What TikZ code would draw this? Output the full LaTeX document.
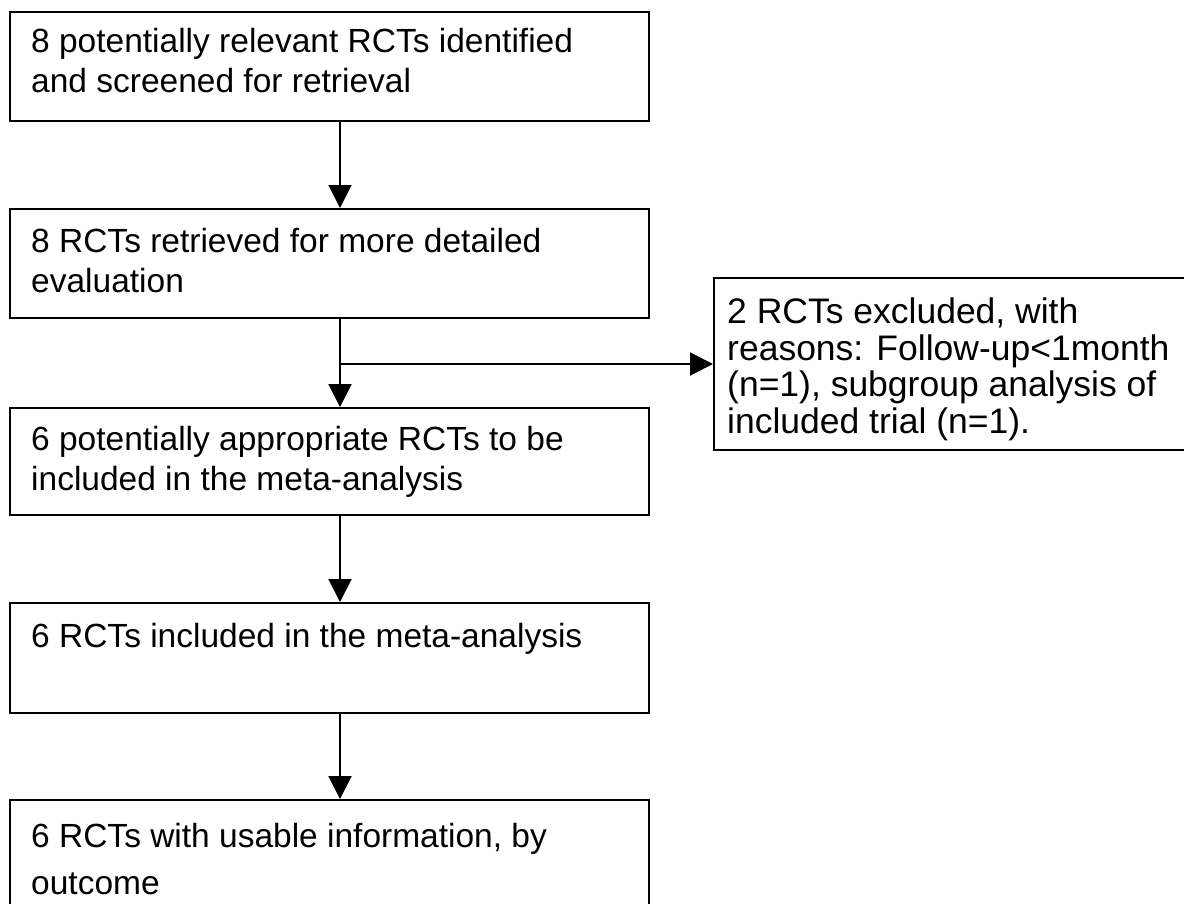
\documentclass[tikz,border=0pt]{standalone}
\usepackage{fontspec}
\setmainfont{Liberation Sans}
\usetikzlibrary{arrows.meta,calc}
\begin{document}
\begin{tikzpicture}[x=1pt,y=-1pt,
  box/.style={draw, line width=2pt, inner sep=0pt, anchor=north west, minimum width=639pt, minimum height=109pt},
  txt/.style={anchor=north west, align=left, inner sep=0pt, font=\fontsize{33.5}{40}\selectfont},
  arr/.style={line width=2pt, -{Triangle[length=23pt,width=23pt]}}]
\path[use as bounding box, clip] (0,0) rectangle (1184,903);
\coordinate (ax) at (340,0);
\node[box] (b1) at (9,11) {};
\node[box] (b2) at (9,208) {};
\node[box, minimum height=107pt] (b3) at (9,407) {};
\node[box, minimum height=110pt] (b4) at (9,602) {};
\node[box] (b5) at (9,799) {};
\node[box, minimum width=480pt, minimum height=172pt] (s) at (713,277) {};
\node[txt] (t1) at ($(b1.north west)+(22,17)$) {8 potentially relevant RCTs identified\\and screened for retrieval};
\node[txt] (t2) at ($(b2.north west)+(22,20)$) {8 RCTs retrieved for more detailed\\evaluation};
\node[txt] (t3) at ($(b3.north west)+(22,19)$) {6 potentially appropriate RCTs to be\\included in the meta-analysis};
\node[txt] (t4) at ($(b4.north west)+(22,21)$) {6 RCTs included in the meta-analysis};
\node[txt, font=\fontsize{33.5}{47}\selectfont] (t5) at ($(b5.north west)+(22,24)$) {6 RCTs with usable information, by\\outcome};
\node[txt, font=\fontsize{35.5}{36.5}\selectfont] (ts) at ($(s.north west)+(14,21)$) {2 RCTs excluded, with\\reasons: Follow-up<1month\\(n=1), subgroup analysis of\\included trial (n=1).};
\draw[arr] (b1.south -| ax) -- (b2.north -| ax);
\draw[arr] (b2.south -| ax) -- (b3.north -| ax);
\draw[arr] (ax |- s.west) -- (s.west);
\draw[arr] (b3.south -| ax) -- (b4.north -| ax);
\draw[arr] (b4.south -| ax) -- (b5.north -| ax);
\end{tikzpicture}
\end{document}
